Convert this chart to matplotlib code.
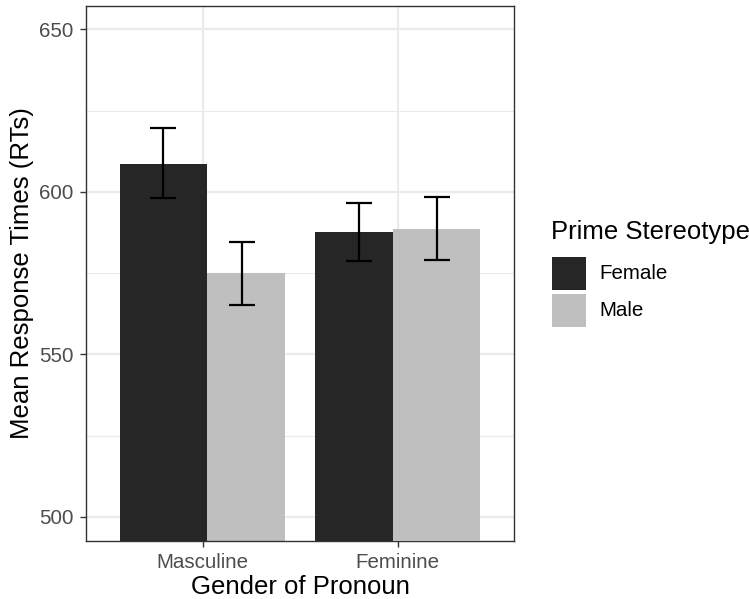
import numpy as np
import matplotlib
matplotlib.use("Agg")
import matplotlib.pyplot as plt
from matplotlib.patches import Rectangle

plt.rcParams['font.family'] = ['Liberation Sans', 'DejaVu Sans']

# %% Data
pronoun = ["Masculine", "Feminine"]
stereotype = ["Female", "Male"]
mean_rt = {"Female": [608.7, 587.6], "Male": [575.0, 588.5]}
err_lo = {"Female": [598.2, 578.7], "Male": [565.3, 578.9]}
err_hi = {"Female": [619.5, 596.7], "Male": [584.6, 598.3]}
colors = {"Female": "#262626", "Male": "#BFBFBF"}

W, H = 749, 599

# %% Plot
fig = plt.figure(figsize=(W/100, H/100), dpi=100)
ax = fig.add_axes([86/W, 1 - 541/H, (514-86)/W, (541-5.5)/H])

x = np.arange(1, len(pronoun) + 1)
offset = {"Female": -0.2, "Male": 0.2}
width = 0.448

for s in stereotype:
    for i, xi in enumerate(x):
        # Female bar on top for Masculine, Male on top for Feminine (as in the reference)
        z = 3 if (s == "Female") == (i == 0) else 2
        ax.bar(xi + offset[s], mean_rt[s][i], width=width, bottom=0,
               color=colors[s], zorder=z, linewidth=0)
        ax.errorbar(xi + offset[s], mean_rt[s][i],
                    yerr=[[mean_rt[s][i] - err_lo[s][i]], [err_hi[s][i] - mean_rt[s][i]]],
                    fmt="none", ecolor="black", elinewidth=1.6, capsize=9.5,
                    capthick=1.6, zorder=5)

ax.set_xlim(0.403, 2.596)
ax.set_ylim(492.6, 657.3)
ax.set_xticks(x)
ax.set_xticklabels(pronoun)
ax.set_yticks([500, 550, 600, 650])
ax.set_yticks([525, 575, 625], minor=True)

ax.grid(True, which="major", color="#EBEBEB", linewidth=1.6, zorder=0)
ax.grid(True, which="minor", axis="y", color="#EBEBEB", linewidth=0.8, zorder=0)
ax.set_axisbelow(True)
for sp in ax.spines.values():
    sp.set_color("#333333")
    sp.set_linewidth(1.0)
ax.tick_params(which="major", color="#333333", length=4.3, width=1.0,
               labelsize=14.8, labelcolor="#4D4D4D", pad=4.5)
ax.tick_params(which="minor", length=0)

ax.set_xlabel("Gender of Pronoun", fontsize=18.5, labelpad=2)
ax.set_ylabel("Mean Response Times (RTs)", fontsize=18.5, labelpad=4)

# %% Legend (drawn by hand in pixel coords)
fig.text(551/W, 1 - 232/H, "Prime Stereotype", fontsize=18.5, ha="left", va="center")
key_top = {"Female": 256.7, "Male": 293.7}
for s in stereotype:
    fig.patches.append(Rectangle((551.7/W, 1 - (key_top[s] + 33.5)/H), 34/W, 33.5/H,
                                 transform=fig.transFigure, facecolor=colors[s],
                                 edgecolor="none", figure=fig))
    fig.text(599/W, 1 - (key_top[s] + 16.5)/H, s, fontsize=14.8, ha="left", va="center")

fig.savefig("out.png", dpi=100)
